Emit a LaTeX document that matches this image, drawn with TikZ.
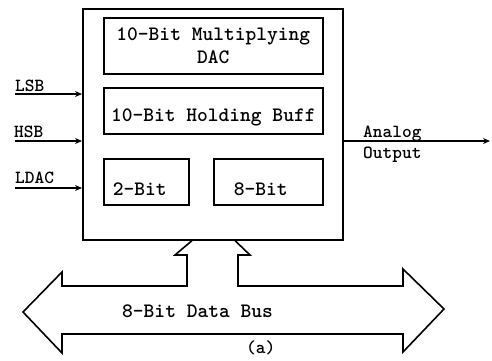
\documentclass[tikz,border=0pt]{standalone}
\usetikzlibrary{arrows.meta,calc}
\begin{document}
\begin{tikzpicture}[x=1pt,y=-1pt,
  blk/.style={draw, line width=1.6pt, inner sep=0pt, anchor=north west,
    font=\fontsize{20.5}{23}\selectfont\ttfamily\bfseries},
  lbl/.style={inner sep=0pt, anchor=base west, font=\fontsize{18.5}{21}\selectfont\ttfamily\bfseries},
  conn/.style={line width=1.6pt, -{Stealth[length=7pt,width=6pt]}},
  busline/.style={line width=1.6pt, line join=miter}]
\useasboundingbox (0,0) rectangle (492,360);
% outer chip
\node[blk, minimum width=260pt, minimum height=231pt] (outer) at (82,8) {};
% inner blocks
\node[blk, minimum width=219pt, minimum height=56pt, align=center] (dac) at (103,17) {10-Bit Multiplying\\DAC};
\node[blk, minimum width=219pt, minimum height=46pt,
      text height=22pt, text depth=0pt] (hold) at (103,87) {10-Bit Holding Buff};
\node[blk, minimum height=46pt, inner xsep=9pt, text width=67pt, align=left,
      text height=28pt, text depth=0pt] (two) at (103,158) {2-Bit};
\node[blk, minimum height=46pt, inner xsep=20pt, text width=69pt, align=left,
      text height=28pt, text depth=0pt] (eight) at (213,158) {8-Bit};
% inputs
\coordinate (lsb) at (15,94);
\coordinate (hsb) at (15,141);
\coordinate (ldac) at (15,188);
\draw[conn] (lsb) -- (lsb -| outer.west);
\draw[conn] (hsb) -- (hsb -| outer.west);
\draw[conn] (ldac) -- (ldac -| outer.west);
\node[lbl] (lsbt) at (15,91) {LSB};
\node[lbl] (hsbt) at (14,137) {HSB};
\node[lbl] (ldact) at (15,183) {LDAC};
% output
\coordinate (aout) at (490,141);
\draw[conn] (aout -| outer.east) -- (aout);
\node[lbl] (analog) at (363,137) {Analog};
\node[lbl] (output) at (363,158) {Output};
% data bus
\draw[busline] ($(outer.south west)+(153,0)$) -- (250,255) -- (238,255) -- (238,286)
  -- (403,286) -- (403,269) -- (444,309) -- (403,352) -- (403,334)
  -- (62,334) -- (62,353) -- (23,312) -- (62,272) -- (62,286)
  -- (187,286) -- (187,255) -- (175,255) -- ($(outer.south west)+(110,0)$);
\node[inner sep=0pt, anchor=base west, font=\fontsize{20.5}{23}\selectfont\ttfamily\bfseries] (bus) at (122,317) {8-Bit Data Bus};
\node[lbl] (cap) at (246,353) {(a)};
\end{tikzpicture}
\end{document}
